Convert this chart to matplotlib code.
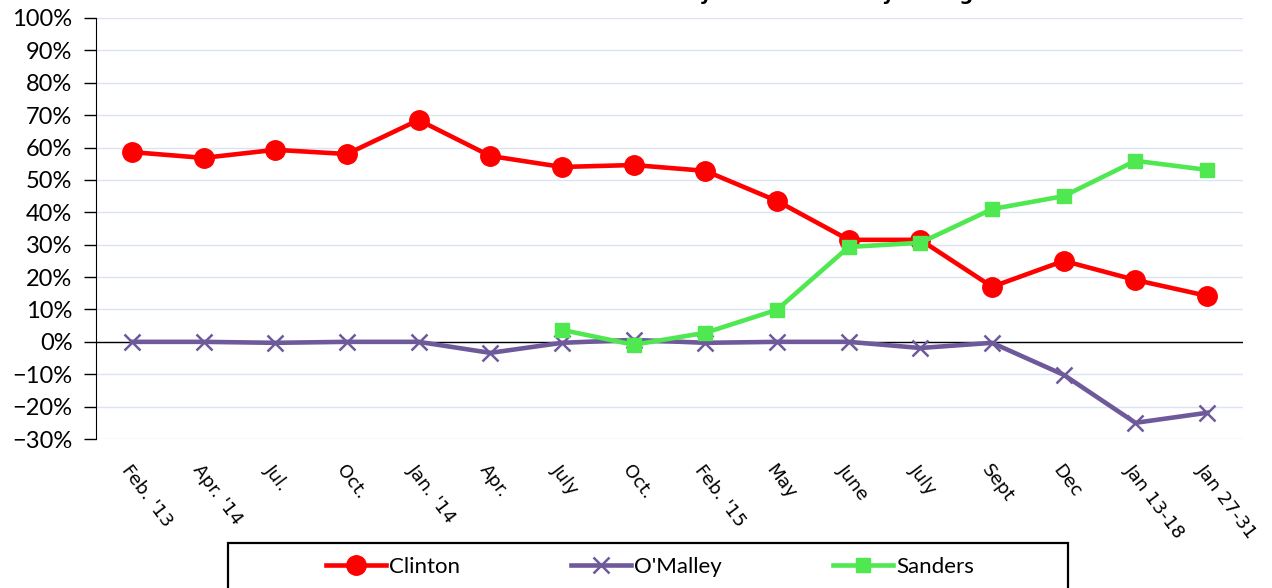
import matplotlib
matplotlib.use("Agg")
import matplotlib.pyplot as plt
import numpy as np
from matplotlib.ticker import PercentFormatter
from matplotlib.patches import Rectangle

categories = ["Feb. '13", "Apr. '14", "Jul.", "Oct.", "Jan. '14", "Apr.", "July", "Oct.",
              "Feb. '15", "May", "June", "July", "Sept", "Dec", "Jan 13-18", "Jan 27-31"]
clinton = [58.6, 56.8, 59.3, 58.0, 68.5, 57.4, 54.0, 54.6, 52.8, 43.5, 31.5, 31.5, 17.0, 25.0, 19.1, 14.2]
omalley = [0.0, 0.0, -0.3, 0.0, 0.0, -3.4, -0.3, 0.6, -0.3, 0.0, 0.0, -1.9, -0.3, -10.2, -25.0, -21.9]
sanders = [None, None, None, None, None, None, 3.7, -0.9, 2.8, 9.9, 29.3, 30.6, 41.0, 45.0, 55.9, 53.1]
yticks = list(range(-30, 101, 10))

W, H = 1272, 588
fig = plt.figure(figsize=(W/100, H/100), dpi=100)
ax = fig.add_axes([96/W, 1-439/H, (1243-96)/W, (439-18)/H])

x = np.arange(len(categories))
s_arr = np.array([np.nan if v is None else v for v in sanders], dtype=float)

ax.plot(x, clinton, color="#FF0000", lw=3.3, marker="o", ms=14, label="Clinton", zorder=4)
ax.plot(x, omalley, color="#6E5A9B", lw=3.3, marker="x", ms=11, mew=1.8, label="O'Malley", zorder=3)
ax.plot(x, s_arr, color="#50E850", lw=3.3, marker="s", ms=10.5, label="Sanders", zorder=5)

ax.set_xlim(-0.5, len(categories) - 0.5)
ax.set_ylim(-30, 100)
ax.set_yticks(yticks)
ax.yaxis.set_major_formatter(PercentFormatter(decimals=0))
ax.grid(axis="y", color="#DCE3F2", lw=1)
ax.set_axisbelow(True)
ax.axhline(0, color="black", lw=1, zorder=2)
for sp in ["top", "right", "bottom"]:
    ax.spines[sp].set_visible(False)
ax.spines["left"].set_color("black")
ax.tick_params(axis="y", length=9, width=1, direction="out", pad=8, labelsize=17)
for lab in ax.get_yticklabels():
    lab.set_fontfamily("Lato")

ax.set_xticks(x)
ax.set_xticklabels(categories, rotation=-53, ha="left", va="top", rotation_mode="anchor",
                   fontsize=13.2, fontfamily="DejaVu Sans")
ax.tick_params(axis="x", length=0, pad=16)

# legend box (extends past the bottom edge as in the reference)
fig.patches.append(Rectangle((228/W, -0.05), (1068-228)/W, (1-543/H) + 0.05,
                             transform=fig.transFigure, fill=False, edgecolor="black",
                             lw=1.6, zorder=10))
leg = fig.legend(loc="center", bbox_to_anchor=(650/W, 1-567/H), ncol=3, frameon=False,
                 prop={"family": "Lato", "size": 16}, handlelength=2.7,
                 handletextpad=0.15, columnspacing=5.0)

fig.text(670/W, 1 + 0.5/H, "Democratic Presidential Primary Net Favorability Ratings",
         ha="center", va="baseline", fontsize=14, fontweight="bold")

fig.savefig("out.png", dpi=100)
